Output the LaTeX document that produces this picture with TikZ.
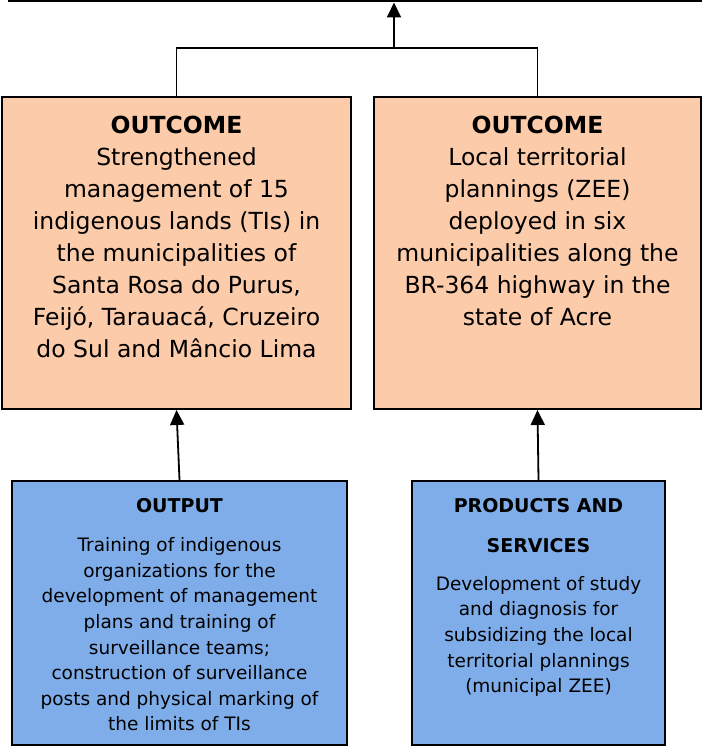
\documentclass[tikz,border=0pt]{standalone}
\usepackage{fontspec}
\setmainfont{DejaVu Sans}
\usetikzlibrary{arrows.meta}
\usetikzlibrary{positioning}
\definecolor{peach}{HTML}{FCCBAA}
\definecolor{skyblue}{HTML}{7FADE9}

\begin{document}
\begin{tikzpicture}
    [
    x=1pt, y=-1pt,
    outbox/.style = {draw, line width=2pt, fill=peach, inner sep=0pt},
    opbox/.style = {draw, line width=2pt, fill=skyblue, inner sep=0pt},
    bigtxt/.style = {anchor=north, align=center, inner sep=0pt, font=\fontsize{23.5}{32}\selectfont},
    smalltxt/.style = {anchor=north, align=center, inner sep=0pt, font=\fontsize{18.5}{25.6}\selectfont},
    link/.style = {line width=1.8pt},
    uparrow/.style = {line width=1.8pt, -{Triangle[length=15pt,width=14pt]}}
    ]
\useasboundingbox (0,0) rectangle (702,746);
\draw[line width=3pt] (8,1) -- (702,1);
\coordinate (top) at (394,2.5);
\coordinate (jn) at (394,48);

% outcomes
\node[outbox, minimum width=349pt, minimum height=312pt] (oc1) at (176.5,253) {};
\node[outbox, minimum width=327pt, minimum height=312pt] (oc2) at (537.5,253) {};
\node[bigtxt] (oc1txt) at ([yshift=-20pt]oc1.north) {\textbf{OUTCOME}\\Strengthened\\management of 15\\indigenous lands (TIs) in\\the municipalities of\\Santa Rosa do Purus,\\Feijó, Tarauacá, Cruzeiro\\do Sul and Mâncio Lima};
\node[bigtxt] (oc2txt) at ([yshift=-20pt]oc2.north) {\textbf{OUTCOME}\\Local territorial\\plannings (ZEE)\\deployed in six\\municipalities along the\\BR-364 highway in the\\state of Acre};

% outputs
\node[opbox, minimum width=335pt, minimum height=264pt] (op1) at (179.5,613) {};
\node[opbox, minimum width=253pt, minimum height=264pt] (op2) at (538.5,613) {};
\node[smalltxt, font=\fontsize{19}{25.6}\selectfont\bfseries] (op1hd) at ([yshift=-18.5pt]op1.north) {OUTPUT};
\node[smalltxt] (op1txt) at ([yshift=-57.5pt]op1.north) {Training of indigenous\\organizations for the\\development of management\\plans and training of\\surveillance teams;\\construction of surveillance\\posts and physical marking of\\the limits of TIs};
\node[smalltxt, font=\fontsize{19}{39.5}\selectfont\bfseries] (op2hd) at ([yshift=-18.5pt]op2.north) {PRODUCTS AND\\SERVICES};
\node[smalltxt] (op2txt) at ([yshift=-96pt]op2.north) {Development of study\\and diagnosis for\\subsidizing the local\\territorial plannings\\(municipal ZEE)};

\draw[link] (oc1.north) |- (jn) -| (oc2.north);
\draw[uparrow] (jn) -- (top);
\draw[uparrow] (op1.north) -- (oc1.south);
\draw[uparrow] (op2.north) -- (oc2.south);
\end{tikzpicture}
\end{document}
